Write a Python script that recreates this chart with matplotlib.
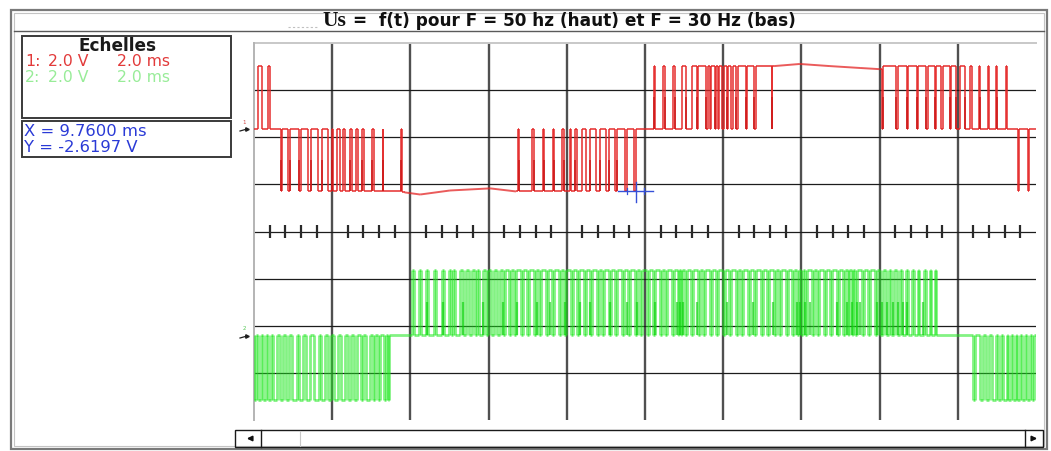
import numpy as np
import matplotlib
matplotlib.use("Agg")
import matplotlib.pyplot as plt
from matplotlib.collections import LineCollection
from matplotlib.patches import Rectangle

plt.rcParams['font.family'] = ['DejaVu Sans']

W, H = 1051, 451
DPI = 100

# ---------------------------------------------------------------- texts
title_main = "Us"
title_rest = "=  f(t) pour F = 50 hz (haut) et F = 30 Hz (bas)"
scale_header = "Echelles"
ch1_scale = ["1:", "2.0 V", "2.0 ms"]
ch2_scale = ["2:", "2.0 V", "2.0 ms"]
cursor_x_ms = 9.7600
cursor_y_v = -2.6197

# ---------------------------------------------------------------- scope settings
ms_per_div = 2.0
volt_per_div = 2.0
n_xdiv = 10
n_ydiv = 8
ch1_zero_div = 2.17     # trace 1 ground marker (divisions above centre)
ch2_zero_div = -2.19    # trace 2 ground marker

# ---------------------------------------------------------------- channel 1 : 50 Hz
ch1_hi_v = 2.70
ch1_lo_v = -2.60
# intervals (ms) where the output sits on +E
ch1_pos_pulses = [
    (0.10, 0.20), (0.37, 0.42),
    (10.22, 10.26), (10.45, 10.50), (10.71, 10.77), (10.95, 11.04), (11.20, 11.33),
    (11.36, 11.55), (11.60, 11.66), (11.70, 11.78), (11.82, 11.87), (11.89, 11.97),
    (12.01, 12.10), (12.12, 12.21), (12.24, 12.33), (12.37, 12.59), (12.62, 12.80),
    (12.84, 13.24), (13.26, 16.05), (16.08, 16.43), (16.46, 16.69), (16.73, 16.95),
    (16.97, 17.19), (17.23, 17.41), (17.45, 17.57), (17.61, 17.79), (17.83, 17.96),
    (18.06, 18.19), (18.30, 18.37), (18.53, 18.58), (18.76, 18.80), (18.98, 19.00),
    (19.24, 19.26),
]
# intervals (ms) where the output sits on -E
ch1_neg_pulses = [
    (0.69, 0.72), (0.88, 0.92), (1.15, 1.20), (1.39, 1.46), (1.64, 1.73), (1.88, 1.99),
    (2.03, 2.12), (2.19, 2.28), (2.33, 2.46), (2.51, 2.61), (2.65, 2.77), (2.81, 3.03),
    (3.06, 3.29), (3.31, 3.77), (3.79, 6.74), (6.77, 7.12), (7.15, 7.38), (7.42, 7.64),
    (7.67, 7.89), (7.94, 8.07), (8.12, 8.21), (8.27, 8.38), (8.49, 8.59), (8.75, 8.84),
    (9.00, 9.07), (9.23, 9.29), (9.50, 9.54), (9.73, 9.76),
    (19.53, 19.57), (19.79, 19.82),
]
# supply ripple on the long plateaus
ch1_hi_plateau_t = [13.30, 13.96, 14.73, 15.50, 16.00]
ch1_hi_plateau_v = [2.68, 2.77, 2.68, 2.60, 2.55]
ch1_lo_plateau_t = [3.85, 4.25, 5.01, 6.04, 6.70]
ch1_lo_plateau_v = [-2.68, -2.77, -2.60, -2.51, -2.64]
# edges with an extra half-height sample
ch1_half_pos_t = [10.22, 10.50, 10.77, 11.04, 11.33, 11.55, 11.78, 12.10, 12.33, 12.59,
                  12.80, 13.24, 16.08, 16.43, 16.69, 16.95, 17.19, 17.41, 17.79, 17.96,
                  18.19, 18.58, 19.00]
ch1_half_neg_t = [0.69, 0.92, 1.15, 1.46, 1.73, 1.99, 2.46, 2.77, 3.03, 3.29, 3.77,
                  6.77, 7.15, 7.42, 7.67, 7.94, 8.21, 8.59, 8.84, 9.07, 9.29]

# ---------------------------------------------------------------- channel 2 : 30 Hz
ch2_hi_v = 2.76
ch2_lo_v = -2.77
ch2_neg_pulses = [
    (0.00, 0.05), (0.10, 0.18), (0.23, 0.31), (0.36, 0.43), (0.49, 0.59), (0.67, 0.74),
    (0.82, 0.90), (0.97, 1.10), (1.15, 1.25), (1.33, 1.43), (1.53, 1.66), (1.71, 1.82),
    (1.89, 1.97), (2.05, 2.15), (2.23, 2.33), (2.40, 2.48), (2.56, 2.63), (2.74, 2.79),
    (2.86, 2.97), (3.04, 3.10), (3.17, 3.22), (3.33, 3.38), (3.43, 3.45),
    (18.39, 18.44), (18.57, 18.65), (18.72, 18.80), (18.88, 18.98), (19.03, 19.11),
    (19.16, 19.26), (19.29, 19.36), (19.42, 19.49), (19.52, 19.59), (19.65, 19.72),
    (19.77, 19.85), (19.90, 19.95),
]
ch2_pos_pulses = [
    (4.04, 4.08), (4.22, 4.27), (4.40, 4.45), (4.60, 4.66), (4.81, 4.86), (4.99, 5.04),
    (5.09, 5.14), (5.27, 5.35), (5.42, 5.49), (5.58, 5.65), (5.70, 5.76), (5.86, 5.93),
    (5.99, 6.06), (6.14, 6.22), (6.29, 6.37),
    (6.42, 6.52), (6.57, 6.65), (6.70, 6.83), (6.88, 6.98), (7.03, 7.16), (7.21, 7.29),
    (7.34, 7.47), (7.52, 7.62), (7.67, 7.80), (7.85, 7.93), (7.98, 8.11), (8.16, 8.26),
    (8.31, 8.44), (8.49, 8.59), (8.65, 8.77), (8.82, 8.90), (8.95, 9.08), (9.13, 9.23),
    (9.29, 9.41), (9.46, 9.57), (9.62, 9.75), (9.80, 9.87), (9.93, 10.05), (10.10, 10.21),
    (10.26, 10.39), (10.44, 10.51), (10.56, 10.69), (10.74, 10.85), (10.88, 10.93),
    (10.95, 11.02), (11.08, 11.18), (11.23, 11.36), (11.41, 11.49), (11.54, 11.66),
    (11.72, 11.82), (11.87, 12.00), (12.05, 12.15), (12.20, 12.33), (12.38, 12.46),
    (12.51, 12.64), (12.69, 12.79), (12.84, 12.97), (13.02, 13.12), (13.17, 13.30),
    (13.35, 13.43), (13.48, 13.61), (13.66, 13.76), (13.81, 13.90), (13.93, 14.00),
    (14.04, 14.09), (14.15, 14.27), (14.32, 14.40), (14.45, 14.58), (14.63, 14.73),
    (14.79, 14.91), (14.96, 15.07), (15.12, 15.20), (15.23, 15.30), (15.33, 15.37),
    (15.42, 15.55), (15.60, 15.71), (15.76, 15.89), (15.94, 16.01),
    (16.09, 16.17), (16.24, 16.29), (16.37, 16.45), (16.52, 16.58), (16.68, 16.73),
    (16.83, 16.88), (16.99, 17.02), (17.14, 17.18), (17.29, 17.32), (17.42, 17.45),
]
ch2_half_pos_t = [4.43, 4.83, 5.35, 5.86, 6.37, 6.73, 7.24, 7.57, 7.96, 8.34, 8.59,
                  9.11, 9.54, 9.80, 10.26, 10.82, 10.90, 10.97, 11.33, 12.10, 12.76,
                  13.28, 13.89, 13.97, 14.09, 14.22, 14.91, 15.17, 15.30, 15.42, 15.50,
                  15.94, 16.06, 16.19, 16.35, 16.47, 16.60, 16.70, 17.11]


# ---------------------------------------------------------------- helpers
def trace_vertices(pulse_groups, t_end):
    """Polyline of a three-level PWM trace: 0 between pulses, plateau inside."""
    items = []
    for pulses, lvl, pt, pv in pulse_groups:
        for a, b in pulses:
            items.append((a, b, lvl, pt, pv))
    items.sort(key=lambda p: p[0])
    xs, ys = [0.0], [0.0]
    for a, b, lvl, pt, pv in items:
        inside = [(t, v) for t, v in zip(pt, pv) if a < t < b]
        la = inside[0][1] if inside else lvl
        lb = inside[-1][1] if inside else lvl
        xs += [a, a]
        ys += [0.0, la]
        for t, v in inside:
            xs.append(t)
            ys.append(v)
        xs += [b, b]
        ys += [lb, 0.0]
    xs.append(t_end)
    ys.append(0.0)
    return np.array(xs), np.array(ys)


def draw_trace(ax, xs, vs, zero_div, color, alpha, lw):
    yd = zero_div + vs / volt_per_div
    pts = np.column_stack([xs, yd])
    segs = np.stack([pts[:-1], pts[1:]], axis=1)
    lc = LineCollection(segs, colors=color, linewidths=lw, alpha=alpha,
                        zorder=5, capstyle='butt')
    ax.add_collection(lc)


def draw_half_edges(ax, times, lvl, zero_div, color, alpha, lw):
    lo = min(0.0, lvl)
    hi = lo + abs(lvl) / 2.0
    segs = [[(t, zero_div + lo / volt_per_div), (t, zero_div + hi / volt_per_div)]
            for t in times]
    ax.add_collection(LineCollection(segs, colors=color, linewidths=lw,
                                     alpha=alpha, zorder=6))


fig = plt.figure(figsize=(W / DPI, H / DPI), dpi=DPI)
fig.patch.set_facecolor('white')

# pixel-space layer for the window furniture
bg = fig.add_axes([0, 0, 1, 1])
bg.set_xlim(0, W)
bg.set_ylim(H, 0)
bg.axis('off')
renderer = fig.canvas.get_renderer()


def fit_text(x0, x1, y, s, **kw):
    t = bg.text(x0, y, s, fontsize=10, ha='left', va='center', **kw)
    w = t.get_window_extent(renderer).width
    t.set_fontsize(10 * (x1 - x0) / w)
    return t


# window frame
bg.add_patch(Rectangle((11, 10), 1036, 439, fill=False, ec='#7a7a7a', lw=1.6))
bg.add_patch(Rectangle((14, 13), 1030, 433, fill=False, ec='#c4c4c4', lw=0.8))
bg.plot([14, 1044], [31, 31], color='#5a5a5a', lw=1.0)

# title
fit_text(322, 346, 21, title_main, family=['Liberation Serif', 'DejaVu Serif'],
         fontweight='bold', color='#101010')
fit_text(353, 795, 21, title_rest, fontweight='bold', color='#101010')
bg.plot([288, 318], [27, 27], color='#c0c0c0', lw=0.8, ls=(0, (2, 2)))

# scale box
bg.add_patch(Rectangle((22, 36), 209, 82, fill=False, ec='#3a3a3a', lw=1.4))
bg.add_patch(Rectangle((22, 121), 209, 36, fill=False, ec='#3a3a3a', lw=1.4))
fit_text(79, 157, 46, scale_header, fontweight='bold', color='#1a1a1a')
tx = fit_text(24, 146, 132, "X = " + f"{cursor_x_ms:.4f}" + " ms", color='#2a3ad6')
fs = tx.get_fontsize()
bg.text(24, 148, "Y = " + f"{cursor_y_v:.4f}" + " V", fontsize=fs, ha='left',
        va='center', color='#2a3ad6')
for row, col, y in ((ch1_scale, '#e23a3a', 61), (ch2_scale, '#98ec98', 77)):
    for s, x in zip(row, (25, 48, 117)):
        bg.text(x, y, s, fontsize=fs * 0.95, ha='left', va='center', color=col)

# channel ground markers
bg.text(244, 122, "1", fontsize=4, color='#d04848', ha='center', va='center')
bg.plot([240, 247], [131, 129], color='#202020', lw=0.9)
bg.plot([247], [129], marker='>', ms=2.5, color='#202020')
bg.text(244, 329, "2", fontsize=4, color='#58c858', ha='center', va='center')
bg.plot([240, 247], [338, 336], color='#202020', lw=0.9)
bg.plot([247], [336], marker='>', ms=2.5, color='#202020')

# scroll bar
bg.add_patch(Rectangle((235, 430), 808, 17, fill=False, ec='#1a1a1a', lw=1.0))
bg.plot([261, 261], [430, 447], color='#1a1a1a', lw=1.0)
bg.plot([300, 300], [431, 446], color='#c8c8c8', lw=0.8)
bg.plot([1025, 1025], [430, 447], color='#1a1a1a', lw=1.0)
bg.annotate('', xy=(244, 438.5), xytext=(254, 438.5),
            arrowprops=dict(arrowstyle='-|>', color='#101010', lw=1.3,
                            mutation_scale=7))
bg.annotate('', xy=(1040, 438.5), xytext=(1030, 438.5),
            arrowprops=dict(arrowstyle='-|>', color='#101010', lw=1.3,
                            mutation_scale=7))

# ---------------------------------------------------------------- screen
L, R, T, B = 254, 1036, 43, 420
ax = fig.add_axes([L / W, 1 - B / H, (R - L) / W, (B - T) / H])
t_full = n_xdiv * ms_per_div
ax.set_xlim(0, t_full)
ax.set_ylim(-n_ydiv / 2, n_ydiv / 2)
ax.axis('off')

for k in range(1, n_xdiv):
    ax.plot([k * ms_per_div] * 2, [-n_ydiv / 2, n_ydiv / 2], color='#505050',
            lw=1.7, zorder=1)
for j in range(-n_ydiv // 2 + 1, n_ydiv // 2):
    ax.plot([0, t_full], [j, j], color='#1c1c1c', lw=0.9, zorder=1)
ax.plot([0, t_full], [n_ydiv / 2] * 2, color='#c8c8c8', lw=1.4, clip_on=False, zorder=1)
ax.plot([0, 0], [-n_ydiv / 2, n_ydiv / 2], color='#b4b4b4', lw=1.4, clip_on=False,
        zorder=1)

# graduations of the centre line (5 per division)
minor = [k * ms_per_div / 5 for k in range(1, n_xdiv * 5) if k % 5]
ax.add_collection(LineCollection([[(m, -0.13), (m, 0.13)] for m in minor],
                                 colors='#2a2a2a', linewidths=1.6, zorder=2))

# traces
x1, v1 = trace_vertices([(ch1_pos_pulses, ch1_hi_v, ch1_hi_plateau_t, ch1_hi_plateau_v),
                         (ch1_neg_pulses, ch1_lo_v, ch1_lo_plateau_t, ch1_lo_plateau_v)],
                        t_full)
draw_trace(ax, x1, v1, ch1_zero_div, '#e42424', 0.75, 1.4)
draw_half_edges(ax, ch1_half_pos_t, ch1_hi_v, ch1_zero_div, '#c81414', 0.75, 1.3)
draw_half_edges(ax, ch1_half_neg_t, ch1_lo_v, ch1_zero_div, '#c81414', 0.75, 1.3)

x2, v2 = trace_vertices([(ch2_pos_pulses, ch2_hi_v, [], []),
                         (ch2_neg_pulses, ch2_lo_v, [], [])], t_full)
draw_trace(ax, x2, v2, ch2_zero_div, '#1ee81e', 0.55, 2.0)
draw_half_edges(ax, ch2_half_pos_t, ch2_hi_v, ch2_zero_div, '#08d008', 0.6, 1.6)

# measurement cursor
cy = ch1_zero_div + cursor_y_v / volt_per_div
ax.plot([cursor_x_ms - 0.44, cursor_x_ms + 0.44], [cy, cy], color='#3550d8', lw=1.0,
        zorder=8)
ax.plot([cursor_x_ms, cursor_x_ms], [cy - 0.24, cy + 0.2], color='#3550d8', lw=1.0,
        zorder=8)
for dx in (-0.22, 0.22):
    ax.plot([cursor_x_ms + dx] * 2, [cy - 0.06, cy + 0.06], color='#3550d8', lw=0.9,
            zorder=8)

fig.savefig('out.png', dpi=DPI, facecolor='white')
